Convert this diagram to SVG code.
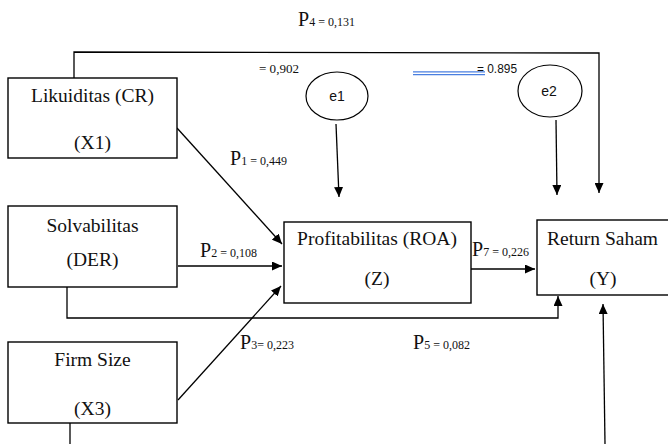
<svg xmlns="http://www.w3.org/2000/svg" width="668" height="444" viewBox="0 0 668 444">
<defs>
<marker id="ah" markerUnits="userSpaceOnUse" markerWidth="10" markerHeight="9" refX="10" refY="4.5" orient="auto">
<path d="M0,0 L10,4.5 L0,9 z" fill="#000"/>
</marker>
<style>
.box{fill:#fff;stroke:#000;stroke-width:1.4}
.ell{fill:#fff;stroke:#000;stroke-width:1.2}
.ln{fill:none;stroke:#000;stroke-width:1.3}
.arr{fill:none;stroke:#000;stroke-width:1.3;marker-end:url(#ah)}
</style>
</defs>
<rect width="668" height="444" fill="#fff"/>

<g id="connectors">
<polyline class="arr" points="74,78 74,52 599,53 599,193"/>
<line class="arr" x1="336" y1="124" x2="339" y2="197"/>
<line class="arr" x1="556" y1="120" x2="557" y2="195"/>
<line class="arr" x1="177" y1="128" x2="282" y2="244"/>
<line class="arr" x1="178" y1="266" x2="282" y2="266"/>
<line class="arr" x1="178" y1="400" x2="281" y2="286"/>
<polyline class="arr" points="67,287 67,318 558,318 558,296"/>
<line class="ln" x1="70" y1="423" x2="70" y2="444"/>
<line class="arr" x1="605" y1="444" x2="603" y2="304"/>
<line class="arr" x1="471" y1="269" x2="535" y2="269"/>
<line x1="413" y1="71.8" x2="485" y2="71.8" stroke="#4a7fe0" stroke-width="1.3"/>
<line x1="413" y1="74.6" x2="485" y2="74.6" stroke="#4a7fe0" stroke-width="1.3"/>
</g>

<g id="likuiditas">
<rect class="box" x="8" y="78" width="169" height="80"/>
<text font-family="Liberation Serif" font-size="19.5" fill="#111" x="92.5" y="102" text-anchor="middle">Likuiditas (CR)</text>
<text font-family="Liberation Serif" font-size="19.5" fill="#111" x="92.5" y="149" text-anchor="middle">(X1)</text>
</g>
<g id="solvabilitas">
<rect class="box" x="8" y="206" width="169" height="81"/>
<text font-family="Liberation Serif" font-size="19.5" fill="#111" x="92.5" y="232" text-anchor="middle">Solvabilitas</text>
<text font-family="Liberation Serif" font-size="19.5" fill="#111" x="92.5" y="266" text-anchor="middle">(DER)</text>
</g>
<g id="firmsize">
<rect class="box" x="8" y="342" width="169" height="81"/>
<text font-family="Liberation Serif" font-size="19.5" fill="#111" x="92.5" y="366" text-anchor="middle">Firm Size</text>
<text font-family="Liberation Serif" font-size="19.5" fill="#111" x="92.5" y="415" text-anchor="middle">(X3)</text>
</g>
<g id="profitabilitas">
<rect class="box" x="284" y="222" width="187" height="81"/>
<text font-family="Liberation Serif" font-size="19.5" fill="#111" x="377" y="245" text-anchor="middle">Profitabilitas (ROA)</text>
<text font-family="Liberation Serif" font-size="19.5" fill="#111" x="377" y="285" text-anchor="middle">(Z)</text>
</g>
<g id="return">
<rect class="box" x="537" y="220" width="140" height="75"/>
<text font-family="Liberation Serif" font-size="19.5" fill="#111" x="602.5" y="245" text-anchor="middle">Return Saham</text>
<text font-family="Liberation Serif" font-size="19.5" fill="#111" x="603" y="285" text-anchor="middle">(Y)</text>
</g>
<g id="e1">
<ellipse class="ell" cx="337" cy="96" rx="31" ry="24"/>
<text font-family="Liberation Sans" font-size="14" fill="#111" x="337" y="101" text-anchor="middle">e1</text>
</g>
<g id="e2">
<ellipse class="ell" cx="550" cy="91" rx="32" ry="26"/>
<text font-family="Liberation Sans" font-size="14" fill="#111" x="549" y="96" text-anchor="middle">e2</text>
</g>

<g id="labels" font-family="Liberation Serif" fill="#111">
<text x="298" y="26"><tspan font-size="20">P</tspan><tspan font-size="12">4 = 0,131</tspan></text>
<text x="230" y="165"><tspan font-size="20">P</tspan><tspan font-size="12">1 = 0,449</tspan></text>
<text x="200" y="257"><tspan font-size="20">P</tspan><tspan font-size="12">2 = 0,108</tspan></text>
<text x="240" y="349"><tspan font-size="20">P</tspan><tspan font-size="12">3= 0,223</tspan></text>
<text x="413" y="349"><tspan font-size="20">P</tspan><tspan font-size="12">5 = 0,082</tspan></text>
<text x="472" y="256"><tspan font-size="20">P</tspan><tspan font-size="12">7 = 0,226</tspan></text>
<text font-size="12" x="259" y="73" textLength="40" lengthAdjust="spacingAndGlyphs">= 0,902</text>
<text font-size="12" x="477" y="73" font-family="Liberation Sans" textLength="40" lengthAdjust="spacingAndGlyphs">= 0.895</text>
</g>
</svg>
